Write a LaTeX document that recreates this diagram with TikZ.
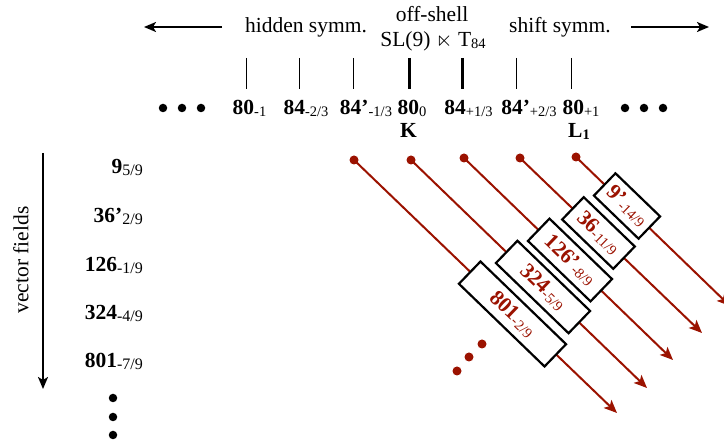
\documentclass[tikz,border=0pt]{standalone}
\usepackage{amssymb}
\usepackage{fontspec}
\setmainfont{Liberation Serif}
\usetikzlibrary{arrows.meta}
\definecolor{dred}{RGB}{155,18,0}
\newcommand{\subsz}{14.5}
\newcommand{\subtx}[1]{\raisebox{-2pt}{\fontsize{\subsz}{16}\selectfont #1}}
\newcommand{\lab}[2]{\textbf{#1}\subtx{#2}}
\begin{document}
\begin{tikzpicture}[x=1pt,y=-1pt,font=\fontsize{21.5}{25}\selectfont,
  thintick/.style={line width=1pt},
  thicktick/.style={line width=3pt},
  blackarrow/.style={line width=2pt,-{Stealth[length=12pt,width=10pt,inset=3pt]}},
  redline/.style={dred,line width=2pt,-{Stealth[length=13pt,width=11pt,inset=3pt]}},
  bdot/.style={circle,fill=black,inner sep=0pt,minimum size=8.5pt},
  rdot/.style={circle,fill=dred,inner sep=0pt,minimum size=9pt},
  vbox/.style={draw=black,line width=2.2pt,fill=white,text=dred,rotate=-44,minimum height=31pt,inner sep=2pt},
  toplab/.style={anchor=base,inner sep=0pt},
  leftlab/.style={anchor=base east,inner sep=0pt,execute at begin node={\renewcommand{\subsz}{16}}}]
\useasboundingbox (0,0) rectangle (724,443);

% top texts
\node[toplab] (hid) at (306,33) {hidden symm.};
\node[toplab] (off) at (432,22) {off-shell};
\node[toplab] (sl) at (433,47) {SL(9) $\ltimes$ T\subtx{84}};
\node[toplab] (shi) at (560,33) {shift symm.};
\coordinate (la1) at (222,27);
\coordinate (la2) at (144,27);
\coordinate (ra1) at (631,27);
\coordinate (ra2) at (709,27);
\draw[blackarrow] (la1) -- (la2);
\draw[blackarrow] (ra1) -- (ra2);

% ticks
\foreach \x in {246,299,353,516,571} \draw[thintick] (\x,58) -- (\x,89);
\foreach \x in {409,462} \draw[thicktick] (\x,58) -- (\x,89);

% top row labels
\node[toplab] (t1) at (249.5,115) {\lab{80}{-1}};
\node[toplab] (t2) at (306,115) {\lab{84}{-2/3}};
\node[toplab] (t3) at (366,115) {\lab{84’}{-1/3}};
\node[toplab] (t4) at (412,115) {\lab{80}{0}};
\node[toplab] (t5) at (468.5,115) {\lab{84}{+1/3}};
\node[toplab] (t6) at (529,115) {\lab{84’}{+2/3}};
\node[toplab] (t7) at (581,115) {\lab{80}{+1}};
\node[toplab] (K) at (408.5,138) {\textbf{K}};
\node[toplab] (L) at (579,138) {\textbf{L\subtx{1}}};
\foreach \x [count=\i] in {163,182,201} \node[bdot] (ld\i) at (\x,108) {};
\foreach \x [count=\i] in {625,644,663} \node[bdot] (rd\i) at (\x,108) {};

% left column
\coordinate (va1) at (43,153);
\coordinate (va2) at (43,389);
\draw[blackarrow] (va1) -- (va2);
\node[rotate=90] (vf) at (21,260) {vector fields};
\node[leftlab] (v1) at (143,174) {\lab{9}{5/9}};
\node[leftlab] (v2) at (143,223) {\lab{36’}{2/9}};
\node[leftlab] (v3) at (143,272) {\lab{126}{-1/9}};
\node[leftlab] (v4) at (143,320) {\lab{324}{-4/9}};
\node[leftlab] (v5) at (143,368) {\lab{801}{-7/9}};
\foreach \y [count=\i] in {398,417,435} \node[bdot] (vd\i) at (113,\y) {};

% red lines
\node[rdot] (s1) at (354,160) {};
\node[rdot] (s2) at (411,160) {};
\node[rdot] (s3) at (464,158) {};
\node[rdot] (s4) at (520,158) {};
\node[rdot] (s5) at (576,157) {};
\coordinate (e1) at (617,413);
\coordinate (e2) at (647,388);
\coordinate (e3) at (673,360);
\coordinate (e4) at (702,333);
\coordinate (e5) at (730,306);
\foreach \i in {1,...,5} \draw[redline] (s\i.center) -- (e\i);

% boxes
\node[vbox,minimum width=119pt] (b1) at (512.5,314) {\lab{801}{-2/9}};
\node[vbox,minimum width=101pt] (b2) at (543,287) {\lab{324}{-5/9}};
\node[vbox,minimum width=87pt] (b3) at (570,260) {\lab{126’}{-8/9}};
\node[vbox,minimum width=71pt] (b4) at (598.5,233) {\lab{36}{-11/9}};
\node[vbox,minimum width=62pt] (b5) at (627,206) {\lab{9’}{-14/9}};

% red dots
\node[rdot] (rr1) at (457,371) {};
\node[rdot] (rr2) at (469,357) {};
\node[rdot] (rr3) at (482,344) {};
\end{tikzpicture}
\end{document}
